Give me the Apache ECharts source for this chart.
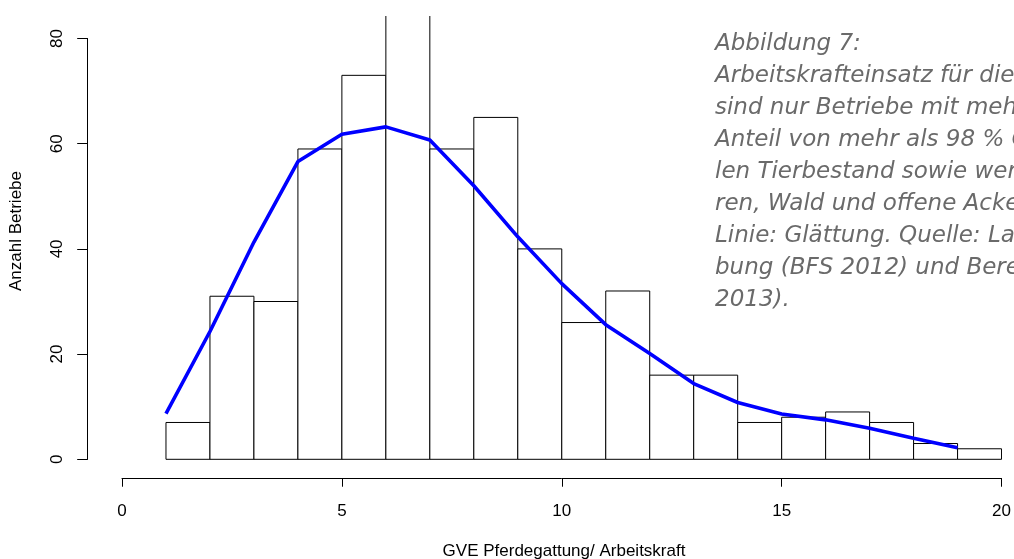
<!DOCTYPE html>
<html>
<head>
<meta charset="utf-8">
<script src="https://cdn.jsdelivr.net/npm/echarts@6/dist/echarts.min.js"></script>
<style>
html,body{margin:0;padding:0;background:#fff;}
#chart{width:1014px;height:559px;}
</style>
</head>
<body>
<div id="chart"></div>
<script>
// Histogram bins (left edges, width 1) and counts
const binLeft = [1,2,3,4,5,6,7,8,9,10,11,12,13,14,15,16,17,18,19];
const binWidth = 1;
const binCounts = [7,31,30,59,73,96,59,65,40,26,32,16,16,7,8,9,7,3,2];
// Smoothing line
const smoothX = [1,2,3,4,5,6,7,8,9,10,11,12,13,14,15,16,17,18,19];
const smoothY = [8.7,24.3,41.3,56.6,61.8,63.2,60.7,52.0,42.3,33.4,25.6,20.1,14.4,10.8,8.6,7.5,5.9,4.0,2.2];
// Axis ticks
const xTicks = [0,5,10,15,20];
const yTicks = [0,20,40,60,80];
const xTitle = 'GVE Pferdegattung/ Arbeitskraft';
const yTitle = 'Anzahl Betriebe';
const caption = [
  'Abbildung 7:',
  'Arbeitskrafteinsatz für die',
  'sind nur Betriebe mit mehr',
  'Anteil von mehr als 98 % GVE',
  'len Tierbestand sowie weniger',
  'ren, Wald und offene Ackerfläche',
  'Linie: Glättung. Quelle: Landwirtschaftliche',
  'bung (BFS 2012) und Berechnungen',
  '2013).'
];

const FONT = '"Liberation Sans", Arial, sans-serif';
const chart = echarts.init(document.getElementById('chart'), null, {renderer:'canvas'});

const histData = binLeft.map((x,i)=>[x, x+binWidth, binCounts[i]]);
const lineData = smoothX.map((x,i)=>[x, smoothY[i]]);

const captionGraphics = caption.map((t,i)=>({
  type:'text', left:715, top: 33 + 32*i,
  style:{text:t, fill:'#6a6a6a', font:'italic 23px "DejaVu Sans", "Noto Sans", sans-serif'}
}));

const option = {
  backgroundColor:'#fff',
  animation:false,
  grid:[
    {left:122, right:8.7, top:16, bottom:97.07},
    {left:87.7, width:20, top:38.5, bottom:99.7}
  ],
  xAxis:[
    {gridIndex:0, type:'value', min:xTicks[0], max:xTicks[xTicks.length-1], interval:5, offset:16.4,
     axisLine:{show:true, onZero:false, lineStyle:{color:'#000', width:1}},
     axisTick:{show:true, length:8.4, lineStyle:{color:'#000'}},
     axisLabel:{show:true, color:'#000', fontSize:17, fontFamily:FONT, margin:24, showMinLabel:true, showMaxLabel:true},
     splitLine:{show:false}},
    {gridIndex:1, type:'value', show:false, min:0, max:1}
  ],
  yAxis:[
    {gridIndex:0, type:'value', min:-0.5, max:84.28, show:false, splitLine:{show:false}},
    {gridIndex:1, type:'value', min:yTicks[0], max:yTicks[yTicks.length-1], interval:20,
     axisLine:{show:true, onZero:false, lineStyle:{color:'#000', width:1}},
     axisTick:{show:true, length:10.5, lineStyle:{color:'#000'}},
     axisLabel:{show:true, rotate:90, color:'#000', fontSize:17, fontFamily:FONT, margin:22, showMinLabel:true, showMaxLabel:true},
     splitLine:{show:false}}
  ],
  series:[
    {type:'custom', xAxisIndex:0, yAxisIndex:0, clip:true,
     encode:{x:[0,1], y:2},
     data:histData,
     renderItem:function(params, api){
       const p0 = api.coord([api.value(0), api.value(2)]);
       const p1 = api.coord([api.value(1), 0]);
       return {type:'rect', shape:{x:p0[0], y:p0[1], width:p1[0]-p0[0], height:p1[1]-p0[1]},
               style:{fill:'#fff', stroke:'#000', lineWidth:1}};
     }},
    {type:'line', xAxisIndex:0, yAxisIndex:0, data:lineData, symbol:'none', clip:true,
     lineStyle:{color:'#0000ff', width:3.6}, z:5}
  ],
  graphic:[
    {type:'text', x:16.5, y:231, rotation:Math.PI/2,
     style:{text:yTitle, fill:'#000', font:'17px '+FONT, align:'center', verticalAlign:'middle'}},
    {type:'text', x:564, y:551,
     style:{text:xTitle, fill:'#000', font:'17px '+FONT, align:'center', verticalAlign:'middle'}}
  ].concat(captionGraphics)
};
chart.setOption(option);
</script>
</body>
</html>
